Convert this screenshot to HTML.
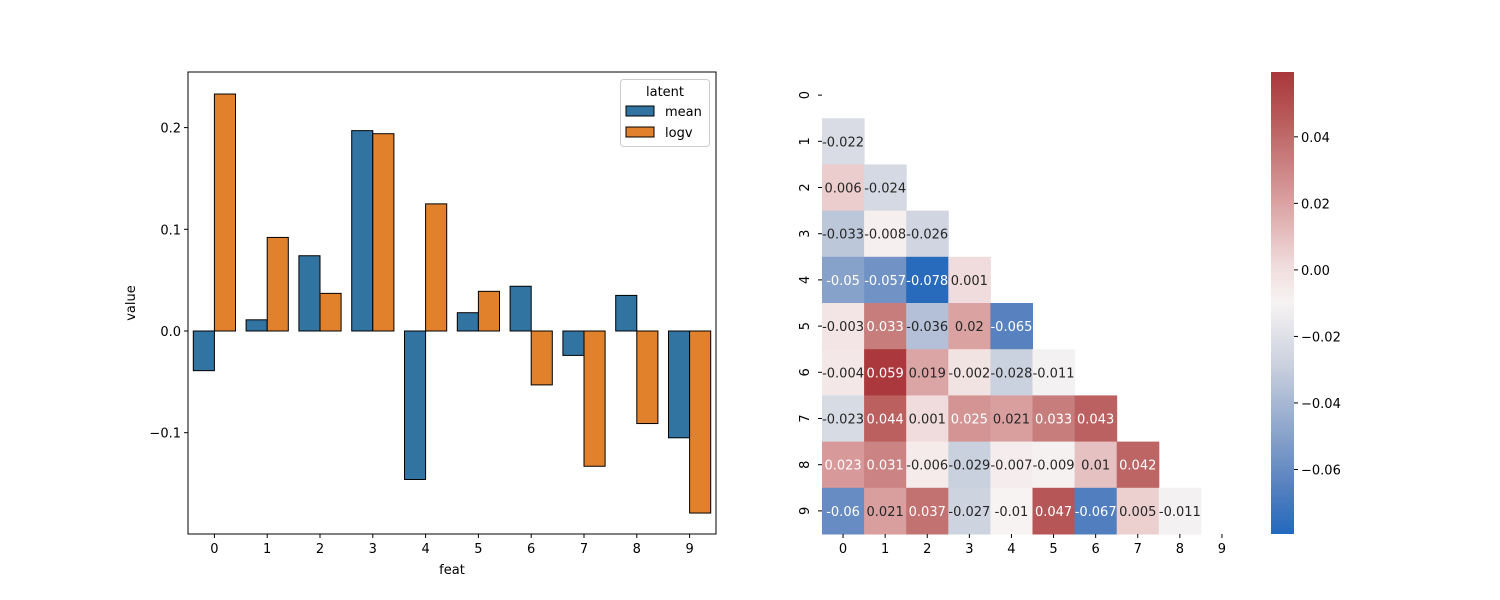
<!DOCTYPE html>
<html><head><meta charset="utf-8"><style>
body{margin:0;background:#fff;}
svg{display:block;font-family:"DejaVu Sans","Liberation Sans",sans-serif;}
</style></head><body>
<svg id="fig" width="1500" height="600" viewBox="0 0 1500 600">
<rect width="1500" height="600" fill="#fff"/>
<g id="bar"></g>
<g id="heat"></g>
<g id="cbar"></g>
</svg>
<script>
const feats=["0","1","2","3","4","5","6","7","8","9"];
const meanVals=[-0.039,0.011,0.074,0.197,-0.146,0.018,0.044,-0.024,0.035,-0.105];
const logvVals=[0.233,0.092,0.037,0.194,0.125,0.039,-0.053,-0.133,-0.091,-0.179];
const yTicks=[-0.1,0.0,0.1,0.2];
const yTickLabels=["\u22120.1","0.0","0.1","0.2"];
const heatLabels=["0","1","2","3","4","5","6","7","8","9"];
const heatRows=[[],[-0.022],[0.006,-0.024],[-0.033,-0.008,-0.026],[-0.05,-0.057,-0.078,0.001],
[-0.003,0.033,-0.036,0.02,-0.065],[-0.004,0.059,0.019,-0.002,-0.028,-0.011],
[-0.023,0.044,0.001,0.025,0.021,0.033,0.043],[0.023,0.031,-0.006,-0.029,-0.007,-0.009,0.01,0.042],
[-0.06,0.021,0.037,-0.027,-0.01,0.047,-0.067,0.005,-0.011]];
const cbTicks=[-0.06,-0.04,-0.02,0.0,0.02,0.04];
const cbTickLabels=["\u22120.06","\u22120.04","\u22120.02","0.00","0.02","0.04"];
const vmin=-0.0794,vmax=0.0595;

const NS="http://www.w3.org/2000/svg";
const FS=13;
function mk(parent,tag,attrs,text){const e=document.createElementNS(NS,tag);for(const k in attrs)e.setAttribute(k,attrs[k]);if(text!==undefined)e.textContent=text;parent.appendChild(e);return e;}

// bar chart
const B=document.getElementById('bar');
const L=188,R=716,T=72,Bt=534;
const ys=v=>331-v*1017;
const step=(R-L)/10;
const xc=i=>L+step*(i+0.5);
const bw=21.1;
for(let i=0;i<feats.length;i++){
  const m=meanVals[i],l=logvVals[i];
  const r1=mk(B,'rect',{x:xc(i)-bw,y:Math.min(ys(m),ys(0)),width:bw,height:Math.abs(ys(m)-ys(0)),fill:'#3274a1',stroke:'#000','stroke-width':1});
  
  
  const r2=mk(B,'rect',{x:xc(i),y:Math.min(ys(l),ys(0)),width:bw,height:Math.abs(ys(l)-ys(0)),fill:'#e1812c',stroke:'#000','stroke-width':1});
  
  
  mk(B,'line',{x1:xc(i),x2:xc(i),y1:Bt,y2:Bt+4,stroke:'#000'});
  const t=mk(B,'text',{x:xc(i),y:Bt+19,'text-anchor':'middle','font-size':FS},feats[i]);
  
  
}
yTicks.forEach((v,i)=>{
  mk(B,'line',{x1:L-4,x2:L,y1:ys(v),y2:ys(v),stroke:'#000'});
  const t=mk(B,'text',{x:L-7,y:ys(v)+5,'text-anchor':'end','font-size':FS},yTickLabels[i]);
  
  
});
mk(B,'rect',{x:L,y:T,width:R-L,height:Bt-T,fill:'none',stroke:'#000','stroke-width':1});
const xl=mk(B,'text',{x:(L+R)/2,y:574,'text-anchor':'middle','font-size':FS},'feat');

const yl=mk(B,'text',{x:135,y:303,'text-anchor':'middle','font-size':FS,transform:'rotate(-90 135 303)'},'value');

// legend
const lg=mk(B,'g',{});

mk(lg,'rect',{x:620.5,y:79.5,width:89,height:67,rx:3,fill:'#fff',stroke:'#ccc'});
mk(lg,'text',{x:665,y:96,'text-anchor':'middle','font-size':FS},'latent');
mk(lg,'rect',{x:626,y:106,width:28,height:10,fill:'#3274a1',stroke:'#000'});
mk(lg,'text',{x:665,y:116,'font-size':FS},'mean');
mk(lg,'rect',{x:626,y:127,width:28,height:10,fill:'#e1812c',stroke:'#000'});
mk(lg,'text',{x:665,y:137,'font-size':FS},'logv');

// heatmap
const H=document.getElementById('heat');
const hx=822,hy=72,cw=(1243-822)/10,ch=(534-72)/10;
const stops=[[0,[35,105,189]],[0.1,[85,128,191]],[0.2,[130,158,200]],[0.36,[200,207,222]],[0.42,[220,222,230]],[0.5,[247,243,243]],[0.58,[240,220,220]],[0.72,[218,160,160]],[0.81,[200,125,125]],[0.9,[185,90,90]],[1,[169,55,59]]];
function cmap(v){let t=(v-vmin)/(vmax-vmin);t=Math.max(0,Math.min(1,t));
  for(let k=1;k<stops.length;k++){if(t<=stops[k][0]){const a=stops[k-1],b=stops[k];const f=(t-a[0])/(b[0]-a[0]);return a[1].map((c,j)=>Math.round(c+(b[1][j]-c)*f));}}return stops[stops.length-1][1];}
function lum(c){const l=c.map(x=>{x/=255;return x<=0.03928?x/12.92:Math.pow((x+0.055)/1.055,2.4);});return 0.2126*l[0]+0.7152*l[1]+0.0722*l[2];}
heatRows.forEach((row,i)=>{row.forEach((v,j)=>{
  const c=cmap(v);
  const r=mk(H,'rect',{x:hx+j*cw,y:hy+i*ch,width:cw+0.5,height:ch+0.5,fill:`rgb(${c})`});
  
  
  const s=(v<0?'-':'')+String(Math.abs(v));
  const t=mk(H,'text',{x:hx+(j+0.5)*cw,y:hy+(i+0.5)*ch+5,'text-anchor':'middle','font-size':FS,fill:lum(c)>0.408?'#262626':'#fff'},s);
  
  
});});
heatLabels.forEach((lab,i)=>{
  const yy=hy+(i+0.5)*ch;
  mk(H,'line',{x1:hx-4,x2:hx,y1:yy,y2:yy,stroke:'#000'});
  const t=mk(H,'text',{x:809,y:yy,'text-anchor':'middle','font-size':FS,transform:`rotate(-90 809 ${yy})`},lab);
  
  const xx=hx+(i+0.5)*cw;
  mk(H,'line',{x1:xx,x2:xx,y1:534,y2:538,stroke:'#000'});
  const t2=mk(H,'text',{x:xx,y:553,'text-anchor':'middle','font-size':FS},lab);
  
});

// colorbar
const C=document.getElementById('cbar');
const defs=mk(C,'defs',{});
const gr=mk(defs,'linearGradient',{id:'cg',x1:0,y1:1,x2:0,y2:0});
stops.forEach(s=>mk(gr,'stop',{offset:s[0],'stop-color':`rgb(${s[1]})`}));
mk(C,'rect',{x:1271,y:72,width:23,height:462,fill:'url(#cg)'});
const cy=v=>534-(v-vmin)/(vmax-vmin)*462;
cbTicks.forEach((v,i)=>{
  mk(C,'line',{x1:1294,x2:1298,y1:cy(v),y2:cy(v),stroke:'#000'});
  const t=mk(C,'text',{x:1301,y:cy(v)+5,'font-size':FS},cbTickLabels[i]);
  
});
</script>
</body></html>
